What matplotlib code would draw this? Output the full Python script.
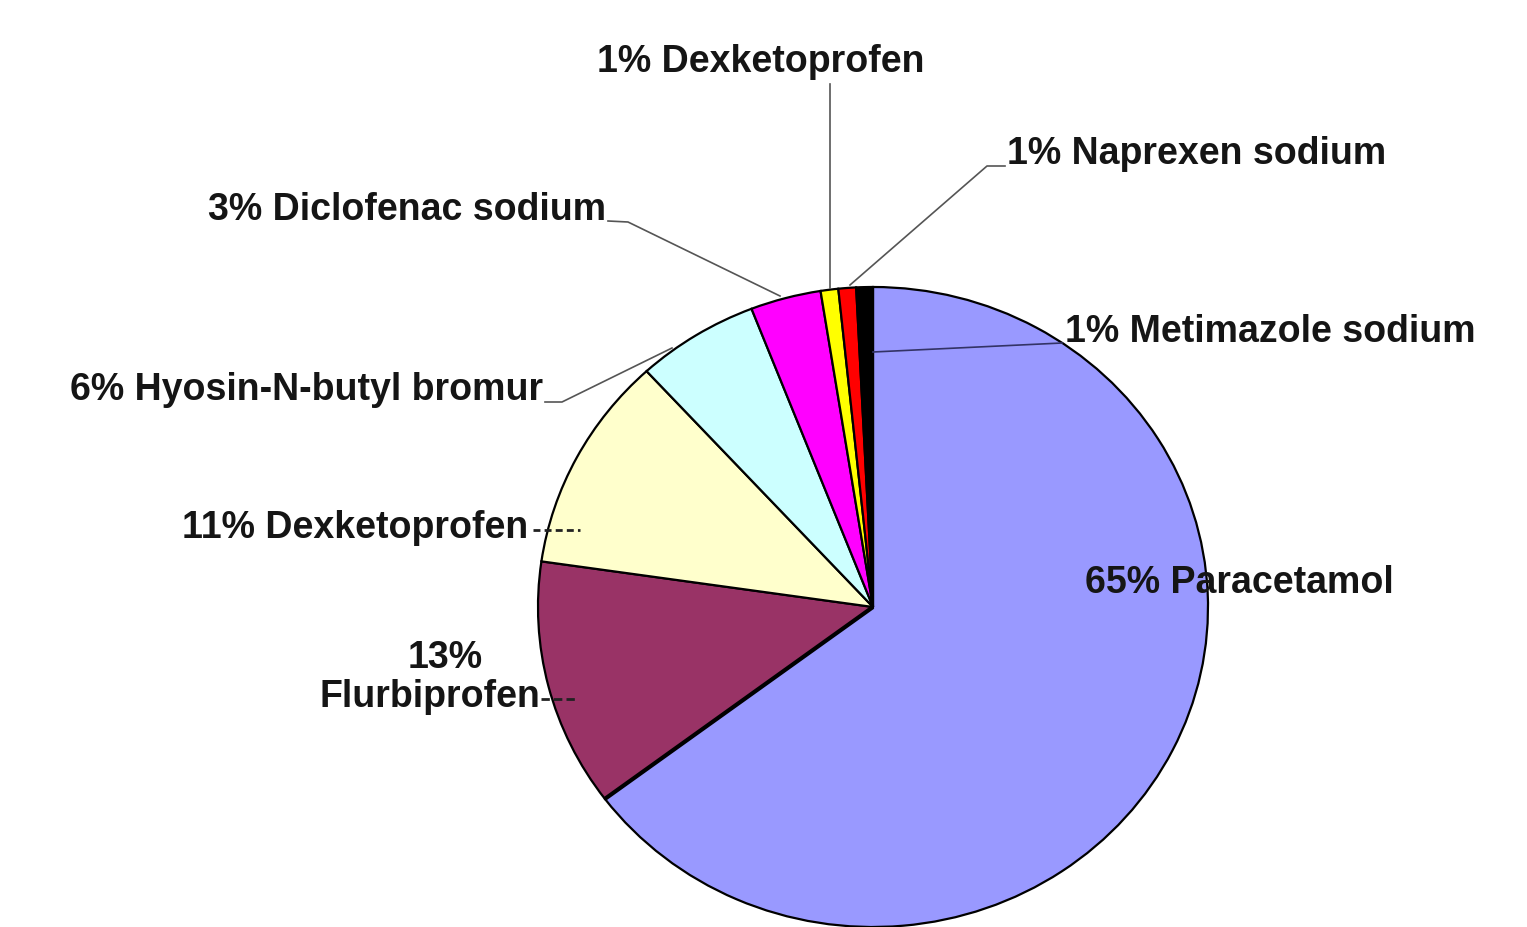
import numpy as np
import matplotlib.pyplot as plt

# slice data, clockwise from 12 o'clock
names = ['Paracetamol', 'Flurbiprofen', 'Dexketoprofen', 'Hyosin-N-butyl bromur',
         'Diclofenac sodium', 'Dexketoprofen', 'Naprexen sodium', 'Metimazole sodium']
values = [64.7, 12.5, 10.9, 5.9, 3.4, 0.85, 0.85, 0.8]
pct_labels = ['65%', '13%', '11%', '6%', '3%', '1%', '1%', '1%']
slice_colors = ['#9999FF', '#993366', '#FFFFCC', '#CCFFFF',
                '#FF00FF', '#FFFF00', '#FF0000', '#000000']

plt.rcParams['font.family'] = ['Liberation Sans', 'DejaVu Sans']

W, H = 1527, 927
fig = plt.figure(figsize=(W / 100, H / 100), dpi=100)

# pie center / radii in pixels (slightly squashed, as in the original)
cx, cy, rx, ry = 873, 607, 335, 320
ax = fig.add_axes([(cx - rx) / W, (H - cy - ry) / H, 2 * rx / W, 2 * ry / H])
ax.pie(values, colors=slice_colors, startangle=90, counterclock=False,
       wedgeprops=dict(edgecolor='black', linewidth=1.6))
# heavier edge between Paracetamol and Flurbiprofen, like the original
a = np.deg2rad(90 - 360 * values[0] / sum(values))
ax.plot([0, np.cos(a)], [0, np.sin(a)], color='black', lw=3, solid_capstyle='butt')
ax.set_aspect('auto')
ax.set_xlim(-1, 1)
ax.set_ylim(-1, 1)
ax.axis('off')

# overlay in pixel coordinates for labels and leader lines
ov = fig.add_axes([0, 0, 1, 1])
ov.set_xlim(0, W)
ov.set_ylim(H, 0)
ov.axis('off')
ov.patch.set_alpha(0)

fs = 27
kw = dict(fontsize=fs, fontweight='bold', color='#151515', va='center')

ov.text(761, 62, pct_labels[5] + ' ' + names[5], ha='center', **kw)
ov.plot([830, 830], [84, 288], color='#555555', lw=1.2)

ov.text(1007, 154, pct_labels[6] + ' ' + names[6], ha='left', **kw)
ov.plot([1005, 987, 850], [166, 166, 285], color='#555555', lw=1.2)

ov.text(606, 210, pct_labels[4] + ' ' + names[4], ha='right', **kw)
ov.plot([608, 628, 780], [221, 222, 296], color='#555555', lw=1.2)

ov.text(543, 390, pct_labels[3] + ' ' + names[3], ha='right', **kw)
ov.plot([545, 562, 672], [402, 402, 348], color='#555555', lw=1.2)

ov.text(1065, 332, pct_labels[7] + ' ' + names[7], ha='left', **kw)
ov.plot([1062, 873], [343, 352], color='#333366', lw=1.2)

ov.text(528, 528, pct_labels[2] + ' ' + names[2], ha='right', **kw)
ov.plot([533, 580], [530, 530], color='#222222', lw=2, ls=(0, (2.5, 1.5)))

ov.text(445, 658, pct_labels[1], ha='center', **kw)
ov.text(540, 697, names[1], ha='right', **kw)
ov.plot([541, 575], [699, 699], color='#222222', lw=2, ls=(0, (3, 1.5)))

ov.text(1085, 583, pct_labels[0] + ' ' + names[0], ha='left', **kw)

fig.savefig('out.png', dpi=100, facecolor='white')
